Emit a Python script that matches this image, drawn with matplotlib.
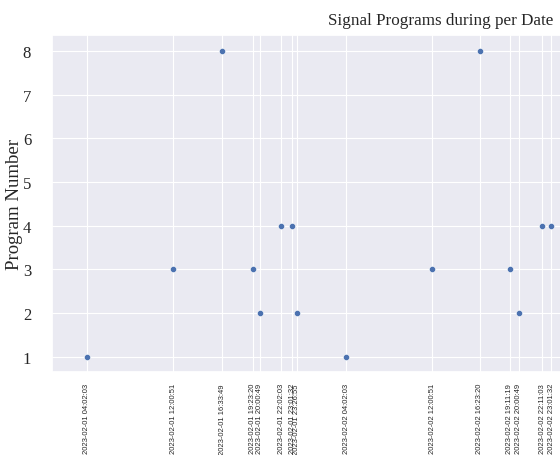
import matplotlib
matplotlib.use("Agg")
import matplotlib.pyplot as plt
import matplotlib.dates as mdates
import seaborn as sns
import pandas as pd

sns.set_theme(style="darkgrid", rc={"grid.linewidth": 0.8})

dates = [
    "2023-02-01 04:02:03", "2023-02-01 12:00:51", "2023-02-01 16:33:49",
    "2023-02-01 19:23:20", "2023-02-01 20:00:49", "2023-02-01 22:02:03",
    "2023-02-01 23:01:32", "2023-02-01 23:26:55", "2023-02-02 04:02:03",
    "2023-02-02 12:00:51", "2023-02-02 16:23:20", "2023-02-02 19:11:19",
    "2023-02-02 20:00:49", "2023-02-02 22:11:03", "2023-02-02 23:01:32",
]
programs = [1, 3, 8, 3, 2, 4, 4, 2, 1, 3, 8, 3, 2, 4, 4]

x = pd.to_datetime(dates)

fig = plt.figure(figsize=(5.6, 4.56), dpi=100)
ax = fig.add_axes([52 / 560, 83 / 456, 778 / 560, 337 / 456])

ax.scatter(x, programs, s=20, color="#4C72B0", edgecolor="white", linewidth=0.4, zorder=3)

ax.set_xlim(pd.Timestamp("2023-02-01 00:48:00"), pd.Timestamp("2023-02-04 00:50:00"))
ax.set_ylim(0.65, 8.37)

ax.set_xticks(x)
ax.xaxis.set_major_formatter(mdates.DateFormatter("%Y-%m-%d %H:%M:%S"))
ax.tick_params(axis="x", labelrotation=90, labelsize=5.5, pad=2)
for lbl in ax.get_xticklabels():
    lbl.set_fontfamily("Liberation Sans")

ax.set_yticks(range(1, 9))
ax.tick_params(axis="y", labelsize=12, pad=9)
for lbl in ax.get_yticklabels():
    lbl.set_fontfamily("Liberation Serif")

ax.set_ylabel("Program Number", fontsize=13.5, family="Liberation Serif")
ax.yaxis.set_label_coords(-0.037, 0.5)
ax.set_xlabel("Date", fontsize=6, family="Liberation Sans", labelpad=1)
ax.set_title("Signal Programs during per Date", fontsize=12.3, family="Liberation Serif", pad=8)

fig.savefig("out.png", dpi=100)
